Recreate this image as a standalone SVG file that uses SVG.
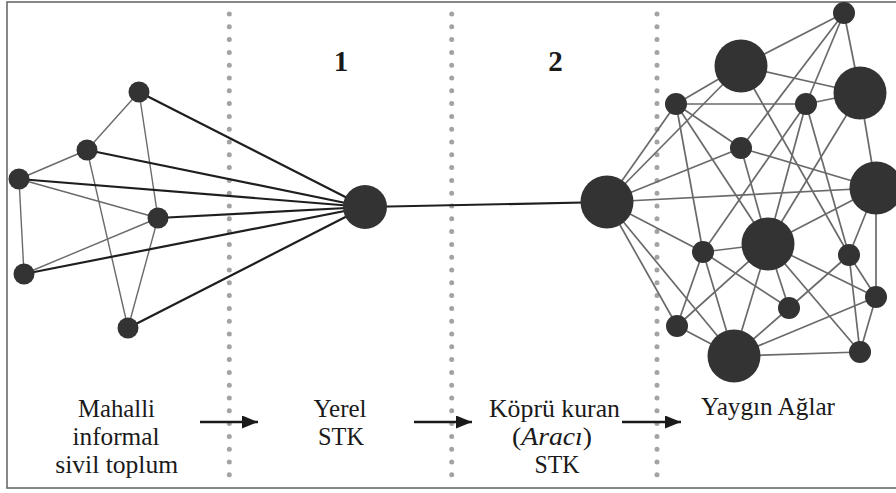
<svg xmlns="http://www.w3.org/2000/svg" width="896" height="493" viewBox="0 0 896 493">
<style>
.frame{fill:#fff;stroke:#6a6a6a;stroke-width:1.6}
.dots{stroke:#a3a3a3;stroke-width:5;stroke-linecap:round;stroke-dasharray:0 12.8;fill:none}
.thin{stroke:#6a6a6a;stroke-width:1.4;fill:none}
.thick{stroke:#1e1e1e;stroke-width:2.2;fill:none}
.net{stroke:#6a6a6a;stroke-width:1.7;fill:none}
.node{fill:#333}
.arrow{stroke:#1a1a1a;stroke-width:2.4;fill:none}
.lbl{font-size:25px;fill:#1a1a1a;text-anchor:middle}
.num{font-size:29px;font-weight:bold;fill:#1a1a1a;text-anchor:middle}
</style>
<defs>
<marker id="ah" markerUnits="userSpaceOnUse" markerWidth="17" markerHeight="13" refX="16" refY="6.5" orient="auto">
<path d="M0,0 L16,6.5 L0,13 z" fill="#1a1a1a"/>
</marker>
</defs>
<rect class="frame" x="7" y="2" width="895" height="486"/>
<g id="dividers">
<line class="dots" x1="229.3" y1="14" x2="229.3" y2="475.5"/>
<line class="dots" x1="451.7" y1="14" x2="451.7" y2="475.5"/>
<line class="dots" x1="657" y1="14" x2="657" y2="475.5"/>
</g>
<g id="connectors">
<line class="thin" x1="139" y1="92" x2="87" y2="150"/>
<line class="thin" x1="139" y1="92" x2="158" y2="218"/>
<line class="thin" x1="87" y1="150" x2="19" y2="179"/>
<line class="thin" x1="87" y1="150" x2="128" y2="328"/>
<line class="thin" x1="19" y1="179" x2="158" y2="218"/>
<line class="thin" x1="19" y1="179" x2="24" y2="274"/>
<line class="thin" x1="24" y1="274" x2="158" y2="218"/>
<line class="thin" x1="158" y1="218" x2="128" y2="328"/>
<line class="thick" x1="139" y1="92" x2="365" y2="207"/>
<line class="thick" x1="87" y1="150" x2="365" y2="207"/>
<line class="thick" x1="19" y1="179" x2="365" y2="207"/>
<line class="thick" x1="158" y1="218" x2="365" y2="207"/>
<line class="thick" x1="24" y1="274" x2="365" y2="207"/>
<line class="thick" x1="128" y1="328" x2="365" y2="207"/>
<line class="thick" x1="365" y1="207" x2="607" y2="202"/>
<line class="net" x1="607" y1="202" x2="676" y2="104"/>
<line class="net" x1="607" y1="202" x2="741" y2="66"/>
<line class="net" x1="607" y1="202" x2="741" y2="148"/>
<line class="net" x1="607" y1="202" x2="876" y2="188"/>
<line class="net" x1="607" y1="202" x2="703" y2="252"/>
<line class="net" x1="607" y1="202" x2="677" y2="326"/>
<line class="net" x1="607" y1="202" x2="734" y2="356"/>
<line class="net" x1="844" y1="13" x2="741" y2="66"/>
<line class="net" x1="844" y1="13" x2="741" y2="148"/>
<line class="net" x1="844" y1="13" x2="806" y2="104"/>
<line class="net" x1="844" y1="13" x2="860" y2="93"/>
<line class="net" x1="741" y1="66" x2="676" y2="104"/>
<line class="net" x1="741" y1="66" x2="860" y2="93"/>
<line class="net" x1="741" y1="66" x2="849" y2="255"/>
<line class="net" x1="860" y1="93" x2="806" y2="104"/>
<line class="net" x1="860" y1="93" x2="768" y2="244"/>
<line class="net" x1="860" y1="93" x2="876" y2="188"/>
<line class="net" x1="676" y1="104" x2="806" y2="104"/>
<line class="net" x1="676" y1="104" x2="741" y2="148"/>
<line class="net" x1="676" y1="104" x2="703" y2="252"/>
<line class="net" x1="676" y1="104" x2="768" y2="244"/>
<line class="net" x1="806" y1="104" x2="703" y2="252"/>
<line class="net" x1="806" y1="104" x2="768" y2="244"/>
<line class="net" x1="806" y1="104" x2="849" y2="255"/>
<line class="net" x1="741" y1="148" x2="768" y2="244"/>
<line class="net" x1="741" y1="148" x2="876" y2="188"/>
<line class="net" x1="876" y1="188" x2="768" y2="244"/>
<line class="net" x1="876" y1="188" x2="849" y2="255"/>
<line class="net" x1="876" y1="188" x2="876" y2="297"/>
<line class="net" x1="703" y1="252" x2="768" y2="244"/>
<line class="net" x1="703" y1="252" x2="677" y2="326"/>
<line class="net" x1="703" y1="252" x2="734" y2="356"/>
<line class="net" x1="703" y1="252" x2="789" y2="308"/>
<line class="net" x1="768" y1="244" x2="677" y2="326"/>
<line class="net" x1="768" y1="244" x2="734" y2="356"/>
<line class="net" x1="768" y1="244" x2="789" y2="308"/>
<line class="net" x1="768" y1="244" x2="860" y2="352"/>
<line class="net" x1="768" y1="244" x2="876" y2="297"/>
<line class="net" x1="849" y1="255" x2="789" y2="308"/>
<line class="net" x1="849" y1="255" x2="876" y2="297"/>
<line class="net" x1="849" y1="255" x2="860" y2="352"/>
<line class="net" x1="876" y1="297" x2="860" y2="352"/>
<line class="net" x1="876" y1="297" x2="734" y2="356"/>
<line class="net" x1="789" y1="308" x2="734" y2="356"/>
<line class="net" x1="677" y1="326" x2="734" y2="356"/>
<line class="net" x1="734" y1="356" x2="860" y2="352"/>
<line class="arrow" x1="200" y1="422" x2="258" y2="422" marker-end="url(#ah)"/>
<line class="arrow" x1="414" y1="422" x2="472" y2="422" marker-end="url(#ah)"/>
<line class="arrow" x1="622" y1="422" x2="681" y2="422" marker-end="url(#ah)"/>
</g>
<g id="node-a"><circle class="node" cx="139" cy="92" r="10.5"/></g>
<g id="node-b"><circle class="node" cx="87" cy="150" r="10.5"/></g>
<g id="node-c"><circle class="node" cx="19" cy="179" r="10.5"/></g>
<g id="node-d"><circle class="node" cx="158" cy="218" r="10.5"/></g>
<g id="node-e"><circle class="node" cx="24" cy="274" r="10.5"/></g>
<g id="node-f"><circle class="node" cx="128" cy="328" r="10.5"/></g>
<g id="hub-yerel"><circle class="node" cx="365" cy="207" r="22"/></g>
<g id="hub-kopru"><circle class="node" cx="607" cy="202" r="26.5"/></g>
<g id="n-t"><circle class="node" cx="844" cy="13" r="11"/></g>
<g id="n-ba"><circle class="node" cx="741" cy="66" r="26.5"/></g>
<g id="n-bb"><circle class="node" cx="860" cy="93" r="26.5"/></g>
<g id="n-s1"><circle class="node" cx="676" cy="104" r="11"/></g>
<g id="n-s2"><circle class="node" cx="806" cy="104" r="11"/></g>
<g id="n-s3"><circle class="node" cx="741" cy="148" r="11"/></g>
<g id="n-bc"><circle class="node" cx="876" cy="188" r="26.5"/></g>
<g id="n-s4"><circle class="node" cx="703" cy="252" r="11"/></g>
<g id="n-bd"><circle class="node" cx="768" cy="244" r="26.5"/></g>
<g id="n-s5"><circle class="node" cx="849" cy="255" r="11"/></g>
<g id="n-s6"><circle class="node" cx="876" cy="297" r="11"/></g>
<g id="n-s7"><circle class="node" cx="789" cy="308" r="11"/></g>
<g id="n-s8"><circle class="node" cx="677" cy="326" r="11"/></g>
<g id="n-be"><circle class="node" cx="734" cy="356" r="26.5"/></g>
<g id="n-s9"><circle class="node" cx="860" cy="352" r="11"/></g>
<g id="labels" font-family="Liberation Serif, Tinos, DejaVu Serif, serif">
<text class="num" x="341" y="71">1</text>
<text class="num" x="555.5" y="71">2</text>
<text class="lbl" x="116.5" y="417" textLength="77" lengthAdjust="spacingAndGlyphs">Mahalli</text>
<text class="lbl" x="116" y="445" textLength="87" lengthAdjust="spacingAndGlyphs">informal</text>
<text class="lbl" x="116.7" y="473" textLength="123" lengthAdjust="spacingAndGlyphs">sivil toplum</text>
<text class="lbl" x="340" y="417" textLength="53" lengthAdjust="spacingAndGlyphs">Yerel</text>
<text class="lbl" x="341" y="445" textLength="46" lengthAdjust="spacingAndGlyphs">STK</text>
<text class="lbl" x="554.5" y="417" textLength="131" lengthAdjust="spacingAndGlyphs">Köprü kuran</text>
<text class="lbl" x="552" y="445" textLength="80" lengthAdjust="spacingAndGlyphs">(<tspan font-style="italic">Aracı</tspan>)</text>
<text class="lbl" x="557" y="473" textLength="45" lengthAdjust="spacingAndGlyphs">STK</text>
<text class="lbl" x="768" y="415" textLength="134" lengthAdjust="spacingAndGlyphs">Yaygın Ağlar</text>
</g>
</svg>
